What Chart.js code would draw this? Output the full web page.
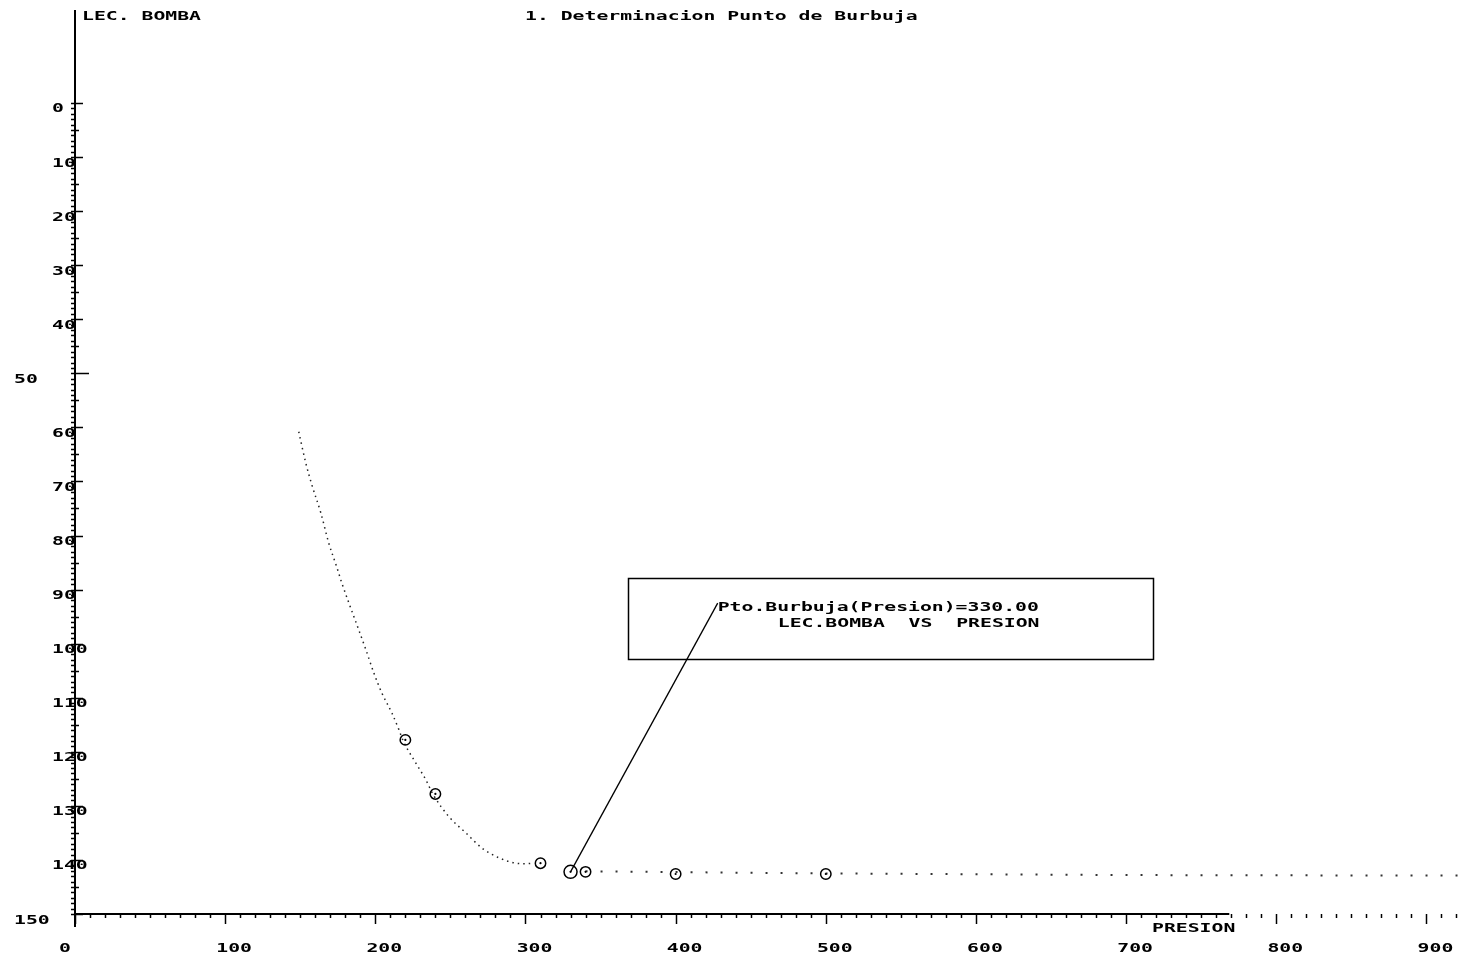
<!DOCTYPE html>
<html lang="es">
<head>
  <meta charset="UTF-8">
  <title>Determinacion Punto de Burbuja</title>
  <script src="https://cdn.jsdelivr.net/npm/chart.js"></script>
  <style>
    html, body { margin: 0; padding: 0; background: #fff; overflow: hidden; }
    canvas { display: block; }
  </style>
</head>
<body>
  <canvas id="grafico" width="1480" height="958"></canvas>

  <script>
    // Medidas (presion vs lectura de bomba)
    const presion = [220, 240, 310, 330, 340, 400, 500];
    const lectura = [117.8, 127.8, 140.6, 142.2, 142.2, 142.6, 142.6];
    const puntoBurbuja = 330;

    // Curva ajustada (punteada)
    const ajusteX = [149, 153.7, 157.7, 163.7, 169, 174.3, 177.7, 182.3, 187.7, 193.7, 199, 204.3, 211,
                     215.7, 218.3, 227, 233.7, 238.3, 249, 260.3, 271, 282.3, 293.7, 300.3, 305];
    const ajusteY = [60.8, 66.6, 70.6, 75.8, 81.4, 85.8, 88.8, 92.4, 96.5, 101.1, 105.4, 109.1, 112.8,
                     115.9, 117.8, 122.1, 125.2, 127.8, 132.0, 135.0, 137.8, 139.6, 140.6, 140.7, 140.6];

    // Tramo horizontal despues del punto de burbuja
    const colaX = [340, 500, 700, 929];
    const colaY = [142.1, 142.5, 142.8, 142.9];

    // Etiquetas de ejes
    const ticksY = [0, 10, 20, 30, 40, 50, 60, 70, 80, 90, 100, 110, 120, 130, 140, 150];
    const ticksX = [0, 100, 200, 300, 400, 500, 600, 700, 800, 900];

    const titulo = '1. Determinacion Punto de Burbuja';
    const tituloY = 'LEC. BOMBA';
    const tituloX = 'PRESION';
    const nota = ['Pto.Burbuja(Presion)=330.00', 'LEC.BOMBA  VS  PRESION'];

    // caja de la nota y extremo de la linea guia (coordenadas de datos)
    const caja = { x0: 368.2, x1: 717.7, y0: 87.85, y1: 102.8 };
    const guia = { x: 428, y: 92.5 };
    const notaPos = [{ x: 428, y: 94.0 }, { x: 468, y: 96.9 }];
    const finLineaX = 768.7;

    const FUENTE = 'bold 13px "DejaVu Sans Mono"';
    const SX = 1.52;

    function texto(ctx, s, x, y, align) {
      ctx.save();
      ctx.translate(x, y);
      ctx.scale(SX, 1);
      ctx.textAlign = align || 'left';
      ctx.fillText(s, 0, 0);
      ctx.restore();
    }

    function linea(ctx, x1, y1, x2, y2) {
      ctx.beginPath();
      ctx.moveTo(x1, y1);
      ctx.lineTo(x2, y2);
      ctx.stroke();
    }

    // Ejes, marcas y textos al estilo del grafico original
    const ejesPlugin = {
      id: 'ejes',
      afterDraw(chart) {
        const { ctx, chartArea: a, scales: { x, y } } = chart;
        ctx.save();
        ctx.strokeStyle = '#000';
        ctx.fillStyle = '#000';
        ctx.font = FUENTE;
        ctx.textBaseline = 'alphabetic';

        const x0 = x.getPixelForValue(0);
        const yb = y.getPixelForValue(150);

        ctx.lineWidth = 2;
        linea(ctx, x0, a.top, x0, yb + 13);
        linea(ctx, x0, yb, x.getPixelForValue(finLineaX), yb);

        // marcas eje Y: cada 1, media cada 5, mayor cada 10
        ctx.lineWidth = 1.5;
        for (let v = 0; v <= 150; v++) {
          const py = Math.round(y.getPixelForValue(v)) + 0.5;
          linea(ctx, x0 - 4, py, x0, py);
          if (v % 10 === 0) linea(ctx, x0, py, x0 + (v === 50 ? 14 : 8), py);
          else if (v % 5 === 0) linea(ctx, x0, py, x0 + 4, py);
        }
        // marcas eje X cada 10
        for (let v = 0; v <= 920; v += 10) {
          const px = Math.round(x.getPixelForValue(v)) + 0.5;
          linea(ctx, px, yb, px, yb + (v % 100 === 0 ? 10 : 4));
        }

        ticksY.forEach(v => {
          const py = y.getPixelForValue(v);
          const left = (v === 50 || v === 150) ? 14 : 52;
          texto(ctx, String(v), left, py + 9.5);
        });
        ticksX.forEach(v => {
          const px = x.getPixelForValue(v);
          const s = String(v);
          texto(ctx, s, s.length > 1 ? px + 9 : px - 10, 952, 'center');
        });

        texto(ctx, titulo, 525, 20);
        texto(ctx, tituloY, 82, 20);
        texto(ctx, tituloX, 1152, 932);

        // caja de la nota
        ctx.lineWidth = 1.5;
        const bx0 = x.getPixelForValue(caja.x0), bx1 = x.getPixelForValue(caja.x1);
        const by0 = y.getPixelForValue(caja.y0), by1 = y.getPixelForValue(caja.y1);
        ctx.strokeRect(Math.round(bx0) + 0.5, Math.round(by0) + 0.5, Math.round(bx1 - bx0), Math.round(by1 - by0));
        nota.forEach((s, i) => {
          texto(ctx, s, x.getPixelForValue(notaPos[i].x), y.getPixelForValue(notaPos[i].y));
        });
        ctx.restore();
      }
    };

    const medidas = presion.map((p, i) => ({ x: p, y: lectura[i] }));

    new Chart(document.getElementById('grafico'), {
      type: 'scatter',
      data: {
        datasets: [
          {
            label: 'centros',
            data: medidas,
            pointRadius: 1.1,
            pointBackgroundColor: '#000',
            pointBorderWidth: 0,
            showLine: false
          },
          {
            label: 'LEC.BOMBA',
            data: medidas,
            pointRadius: medidas.map(m => m.x === puntoBurbuja ? 6.5 : 5.2),
            pointBorderColor: '#000',
            pointBackgroundColor: 'rgba(255,255,255,0)',
            pointBorderWidth: 1.5,
            showLine: false
          },
          {
            label: 'guia',
            data: [{ x: puntoBurbuja, y: lectura[presion.indexOf(puntoBurbuja)] }, guia],
            showLine: true,
            borderColor: '#000',
            borderWidth: 1.3,
            pointRadius: 0
          },
          {
            label: 'ajuste',
            data: ajusteX.map((v, i) => ({ x: v, y: ajusteY[i] })),
            showLine: true,
            borderColor: '#222',
            borderWidth: 1.5,
            borderDash: [1.5, 4],
            cubicInterpolationMode: 'monotone',
            pointRadius: 0
          },
          {
            label: 'cola',
            data: colaX.map((v, i) => ({ x: v, y: colaY[i] })),
            showLine: true,
            borderColor: '#333',
            borderWidth: 2,
            borderDash: [2, 13],
            pointRadius: 0
          }
        ]
      },
      options: {
        responsive: false,
        devicePixelRatio: 1,
        animation: false,
        events: [],
        layout: { padding: { left: 75, right: 10, top: 10, bottom: 44 } },
        plugins: { legend: { display: false }, tooltip: { enabled: false } },
        scales: {
          x: { type: 'linear', min: 0, max: 929, display: false },
          y: { type: 'linear', min: -17.2, max: 150, reverse: true, display: false }
        }
      },
      plugins: [ejesPlugin]
    });
  </script>
</body>
</html>
